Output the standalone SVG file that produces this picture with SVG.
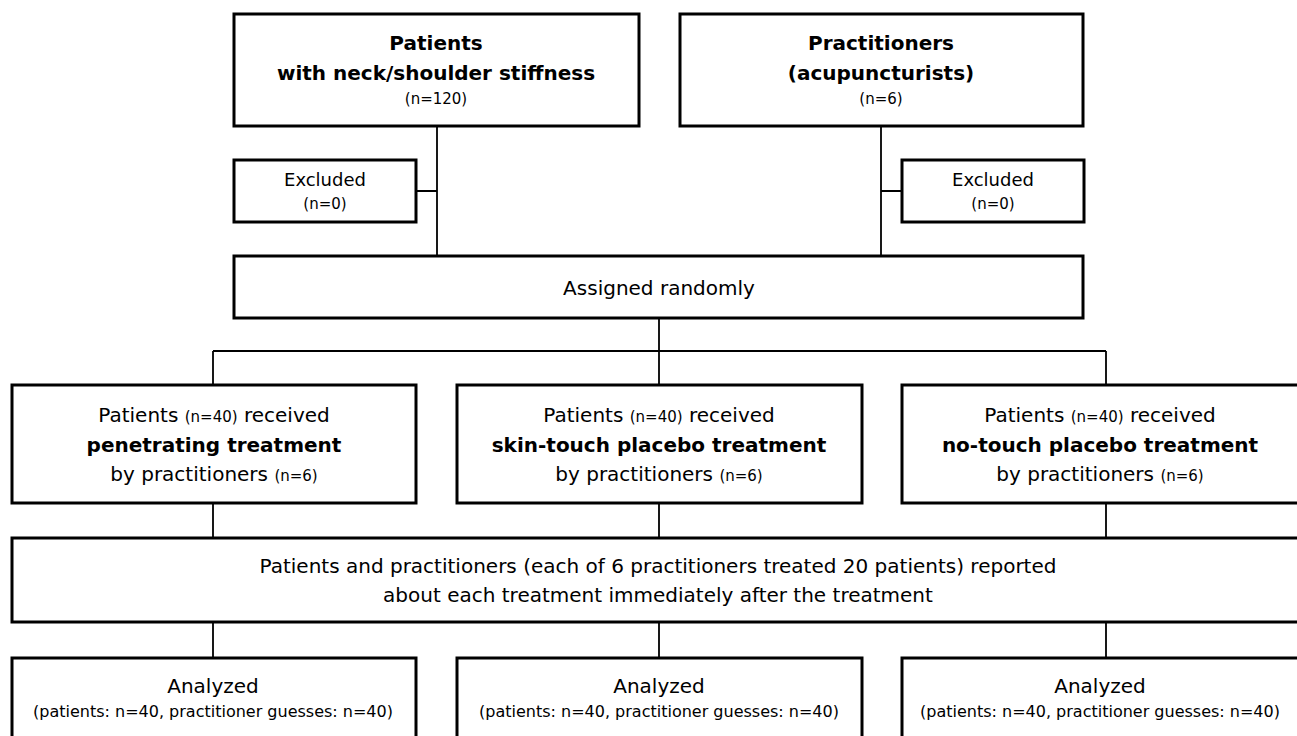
<svg xmlns="http://www.w3.org/2000/svg" width="1297" height="736" viewBox="0 0 1297 736">
<style>
  .box { fill: #fff; stroke: #000; stroke-width: 3; }
  .conn { fill: none; stroke: #000; stroke-width: 1.8; }
  text { font-family: "DejaVu Sans", Verdana, sans-serif; fill: #000; text-anchor: middle; }
  .t20 { font-size: 20px; }
  .t18 { font-size: 18px; }
  .t16 { font-size: 16px; }
  .t15 { font-size: 15px; }
  .b { font-weight: bold; }
  .sm { font-size: 15px; }
</style>
<rect width="1297" height="736" fill="#fff"/>
<g id="connectors">
  <path class="conn" d="M437 126 V256 M416 191 H437"/>
  <path class="conn" d="M881 126 V256 M881 191 H902"/>
  <path class="conn" d="M659 318 V351 M213 351 H1106 M213 351 V385 M659 351 V385 M1106 351 V385"/>
  <path class="conn" d="M213 503 V538 M659 503 V538 M1106 503 V538"/>
  <path class="conn" d="M213 622 V658 M659 622 V658 M1106 622 V658"/>
</g>
<g id="patients">
  <rect class="box" x="234" y="14" width="405" height="112"/>
  <text class="t20 b" x="436" y="50">Patients</text>
  <text class="t20 b" x="436" y="80">with neck/shoulder stiffness</text>
  <text class="t15" x="436" y="104">(n=120)</text>
</g>
<g id="practitioners">
  <rect class="box" x="680" y="14" width="403" height="112"/>
  <text class="t20 b" x="881" y="50">Practitioners</text>
  <text class="t20 b" x="881" y="80">(acupuncturists)</text>
  <text class="t15" x="881" y="104">(n=6)</text>
</g>
<g id="excluded-patients">
  <rect class="box" x="234" y="160" width="182" height="62"/>
  <text class="t18" x="325" y="186">Excluded</text>
  <text class="t15" x="325" y="209">(n=0)</text>
</g>
<g id="excluded-practitioners">
  <rect class="box" x="902" y="160" width="182" height="62"/>
  <text class="t18" x="993" y="186">Excluded</text>
  <text class="t15" x="993" y="209">(n=0)</text>
</g>
<g id="assigned">
  <rect class="box" x="234" y="256" width="849" height="62"/>
  <text class="t20" x="659" y="295">Assigned randomly</text>
</g>
<g id="penetrating">
  <rect class="box" x="12" y="385" width="404" height="118"/>
  <text class="t20" x="214" y="422">Patients <tspan class="sm">(n=40)</tspan> received</text>
  <text class="t20 b" x="214" y="452">penetrating treatment</text>
  <text class="t20" x="214" y="481">by practitioners <tspan class="sm">(n=6)</tspan></text>
</g>
<g id="skin-touch">
  <rect class="box" x="457" y="385" width="405" height="118"/>
  <text class="t20" x="659" y="422">Patients <tspan class="sm">(n=40)</tspan> received</text>
  <text class="t20 b" x="659" y="452">skin-touch placebo treatment</text>
  <text class="t20" x="659" y="481">by practitioners <tspan class="sm">(n=6)</tspan></text>
</g>
<g id="no-touch">
  <rect class="box" x="902" y="385" width="405" height="118"/>
  <text class="t20" x="1100" y="422">Patients <tspan class="sm">(n=40)</tspan> received</text>
  <text class="t20 b" x="1100" y="452">no-touch placebo treatment</text>
  <text class="t20" x="1100" y="481">by practitioners <tspan class="sm">(n=6)</tspan></text>
</g>
<g id="reports">
  <rect class="box" x="12" y="538" width="1300" height="84"/>
  <text class="t20" x="658" y="573">Patients and practitioners (each of 6 practitioners treated 20 patients) reported</text>
  <text class="t20" x="658" y="602">about each treatment immediately after the treatment</text>
</g>
<g id="analyzed-penetrating">
  <rect class="box" x="12" y="658" width="404" height="100"/>
  <text class="t20" x="213" y="693">Analyzed</text>
  <text class="t16" x="213" y="717">(patients: n=40, practitioner guesses: n=40)</text>
</g>
<g id="analyzed-skin-touch">
  <rect class="box" x="457" y="658" width="405" height="100"/>
  <text class="t20" x="659" y="693">Analyzed</text>
  <text class="t16" x="659" y="717">(patients: n=40, practitioner guesses: n=40)</text>
</g>
<g id="analyzed-no-touch">
  <rect class="box" x="902" y="658" width="405" height="100"/>
  <text class="t20" x="1100" y="693">Analyzed</text>
  <text class="t16" x="1100" y="717">(patients: n=40, practitioner guesses: n=40)</text>
</g>
</svg>
